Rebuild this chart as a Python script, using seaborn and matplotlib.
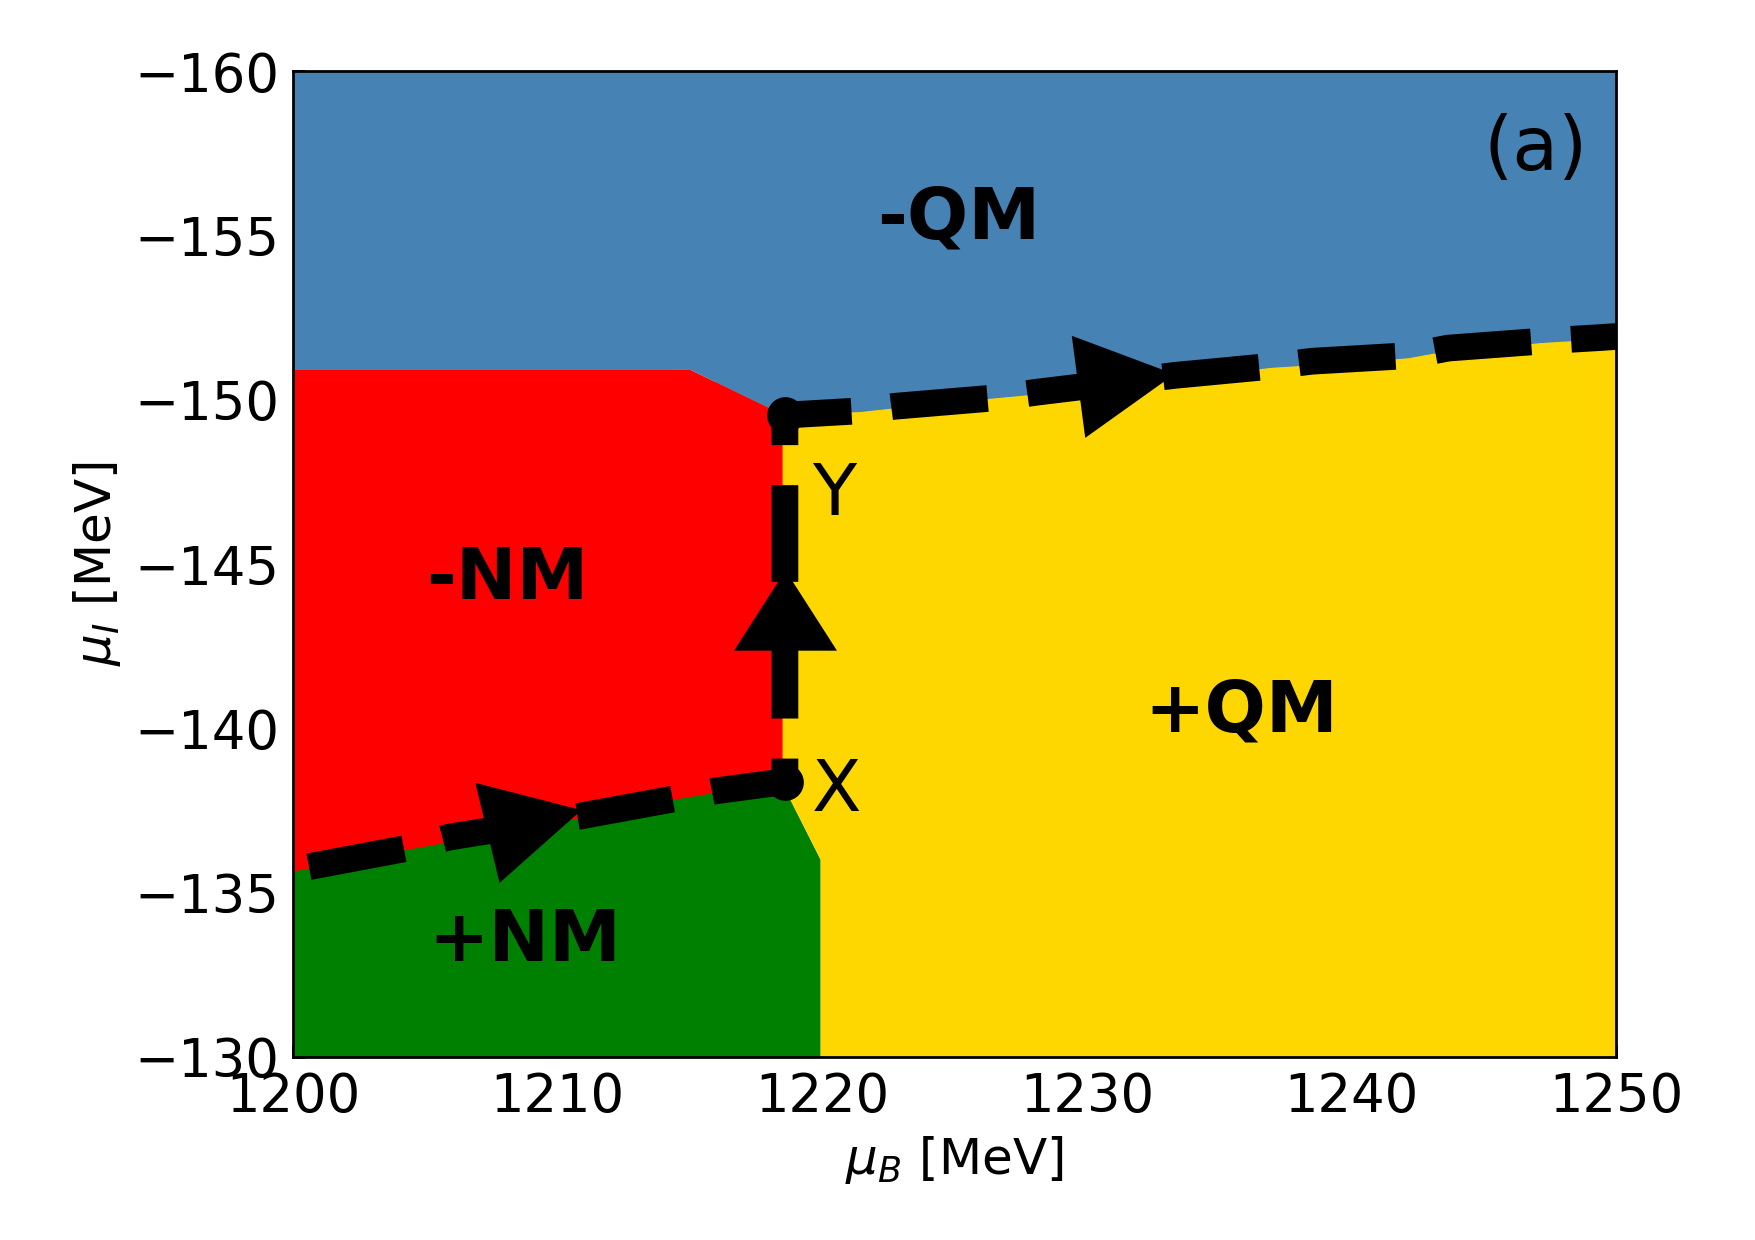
import numpy as np
import matplotlib
matplotlib.use("Agg")
import matplotlib.pyplot as plt
import seaborn as sns
from matplotlib.markers import MarkerStyle
from matplotlib.path import Path
from matplotlib.transforms import Affine2D

# ---------------- data ----------------
# phase boundaries (mu_B [MeV], mu_I [MeV])
blue_red_x = [1200.0, 1215.0, 1218.5]
blue_red_y = [-150.92, -150.92, -149.55]

blue_yellow_x = [1218.5, 1221.4, 1224.0, 1227.85, 1233.4, 1237.0, 1240.0, 1242.15, 1243.66, 1247.3, 1250.0]
blue_yellow_y = [-149.55, -149.62, -149.85, -150.14, -150.65, -150.97, -151.12, -151.26, -151.48, -151.73, -151.86]

red_green_x = [1200.0, 1204.3, 1209.0, 1214.5, 1216.0, 1218.5]
red_green_y = [-135.64, -136.30, -136.98, -137.84, -138.04, -138.30]

green_yellow_x = [1218.5, 1219.94, 1219.94]
green_yellow_y = [-138.30, -136.0, -130.0]

# trajectory (dashed path) through X and Y
path_x = [1200.6, 1204.3, 1205.9, 1210.85, 1214.5, 1216.0, 1218.59, 1218.59,
          1221.4, 1222.75, 1226.6, 1228.13, 1233.33, 1236.99, 1238.5, 1242.15,
          1243.66, 1247.32, 1249.4, 1250.5]
path_y = [-135.79, -136.35, -136.69, -137.33, -137.87, -138.10, -138.38, -149.53,
          -149.66, -149.80, -150.06, -150.23, -150.74, -151.02, -151.17, -151.34,
          -151.57, -151.79, -151.89, -151.95]

points_x = [1218.59, 1218.59]
points_y = [-138.38, -149.53]
points_lab = ["X", "Y"]
points_lab_x = [1220.56, 1220.45]
points_lab_y = [-138.07, -147.07]

right_arrow_x = [1209.1, 1231.47]
right_arrow_y = [-137.17, -150.60]
up_arrow_x = [1218.59]
up_arrow_y = [-143.6]

regions = ["-QM", "-NM", "+NM", "+QM"]
region_x = [1225.15, 1208.11, 1208.77, 1235.82]
region_y = [-155.5, -144.52, -133.51, -140.49]

xticks = [1200, 1210, 1220, 1230, 1240, 1250]
yticks = [-160, -155, -150, -145, -140, -135, -130]

# ---------------- style ----------------
sns.set_theme(style="ticks")
plt.rcParams['font.family'] = ['DejaVu Sans']
plt.rcParams['mathtext.fontset'] = 'dejavusans'
plt.rcParams['text.color'] = 'black'
plt.rcParams['axes.labelcolor'] = 'black'
plt.rcParams['xtick.color'] = 'black'
plt.rcParams['ytick.color'] = 'black'

DPI = 200
fig = plt.figure(figsize=(1755 / DPI, 1240 / DPI), dpi=DPI)
ax = fig.add_axes([0.1670, 0.1476, 0.9208 - 0.1670, 0.9427 - 0.1476])

c_blue, c_red, c_green, c_yellow = "#4682B4", "#FF0000", "#008000", "#FFD700"

# blue (-QM): top
bx = np.concatenate([blue_red_x, blue_yellow_x[1:]])
by = np.concatenate([blue_red_y, blue_yellow_y[1:]])
ax.fill_between(bx, -160, by, color=c_blue, lw=0, zorder=1)

# red (-NM)
rx = np.array(red_green_x)
r_top = np.interp(rx, blue_red_x, blue_red_y)
ax.fill_between(rx, r_top, red_green_y, color=c_red, lw=0, zorder=1)
ax.fill_between(blue_red_x, blue_red_y, np.interp(blue_red_x, red_green_x, red_green_y),
                color=c_red, lw=0, zorder=1)

# green (+NM)
gx = np.concatenate([red_green_x, green_yellow_x[1:]])
gy = np.concatenate([red_green_y, green_yellow_y[1:]])
ax.fill(np.concatenate([gx, [1200.0]]), np.concatenate([gy, [-130.0]]),
        color=c_green, lw=0, zorder=1)

# yellow (+QM)
yx = np.concatenate([blue_yellow_x, [1250.0], green_yellow_x[::-1]])
yy = np.concatenate([blue_yellow_y, [-130.0], green_yellow_y[::-1]])
ax.fill(yx, yy, color=c_yellow, lw=0, zorder=1)

# dashed trajectory
LW = 26.7 * 72 / DPI
n_before = len(ax.lines)
sns.lineplot(x=path_x, y=path_y, sort=False, estimator=None, color="black",
             lw=LW, linestyle="--", ax=ax, zorder=3)
for ln in ax.lines[n_before:]:
    ln.set_dashes((3.62, 1.5))
    ln.set_dash_capstyle("butt")
    ln.set_solid_capstyle("butt")

# arrow heads
tri_r = Path([(0.47, 0.0), (-0.47, 0.5), (-0.47, -0.5), (0.47, 0.0)],
             [Path.MOVETO, Path.LINETO, Path.LINETO, Path.CLOSEPOLY])
tri_u = Path([(0.0, 0.39), (-0.5, -0.39), (0.5, -0.39), (0.0, 0.39)],
             [Path.MOVETO, Path.LINETO, Path.LINETO, Path.CLOSEPOLY])
ms_arrow = 103 * 72 / DPI
for x, y, ang in zip(right_arrow_x, right_arrow_y, [13.6, 7.5]):
    ax.plot([x], [y], ls="none", marker=MarkerStyle(tri_r, transform=Affine2D().rotate_deg(ang)),
            ms=ms_arrow, color="black", mew=0, zorder=4)
ax.plot(up_arrow_x, up_arrow_y, ls="none", marker=MarkerStyle(tri_u), ms=ms_arrow,
        color="black", mew=0, zorder=4)

# X and Y points
ax.plot(points_x, points_y, ls="none", marker="o", ms=36.7 * 72 / DPI, color="black",
        mew=0, zorder=5)
for lab, x, y in zip(points_lab, points_lab_x, points_lab_y):
    ax.text(x, y, lab, fontsize=26, ha="center", va="center", color="black", zorder=6)

for lab, x, y in zip(regions, region_x, region_y):
    ax.text(x, y, lab, fontsize=26, fontweight="bold", ha="center", va="center",
            color="black", zorder=6)

ax.text(1246.98, -157.61, "(a)", fontsize=27, ha="center", va="center", color="black", zorder=6)

# axes
ax.set_xlim(1200, 1250)
ax.set_ylim(-130, -160)
ax.set_xticks(xticks)
ax.set_yticks(yticks)
ax.tick_params(direction="in", length=4.2, width=1.0, labelsize=19, pad=5,
               top=False, right=False, colors="black", labelcolor="black")
for s in ax.spines.values():
    s.set_linewidth(1.0)
    s.set_color("black")
    s.set_zorder(10)
ax.set_xlabel(r"$\mu_B$ [MeV]", fontsize=18, labelpad=4, color="black")
ax.set_ylabel(r"$\mu_I$ [MeV]", fontsize=18, labelpad=4, color="black")

fig.savefig("out.png", dpi=DPI)
